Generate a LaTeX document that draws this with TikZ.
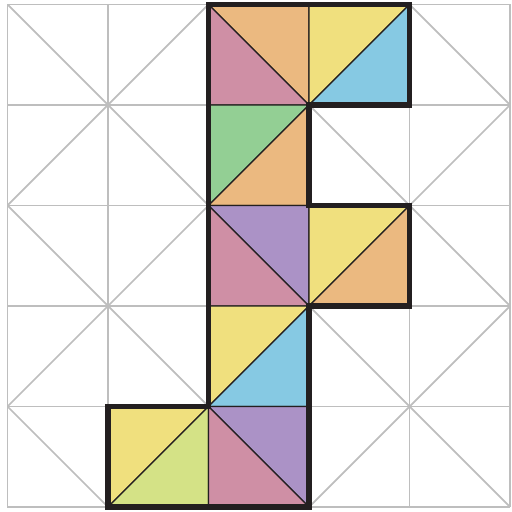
\documentclass[tikz,border=0pt]{standalone}
\definecolor{cOrange}{RGB}{235,185,128}
\definecolor{cPink}{RGB}{207,143,165}
\definecolor{cYellow}{RGB}{240,224,126}
\definecolor{cBlue}{RGB}{134,201,227}
\definecolor{cGreen}{RGB}{147,207,148}
\definecolor{cPurple}{RGB}{171,146,198}
\definecolor{cLime}{RGB}{212,226,134}
\definecolor{cGrid}{RGB}{190,190,190}
\definecolor{cInk}{RGB}{35,31,32}
\tikzset{
  gridline/.style={draw=cGrid, line width=0.5pt},
  tri/.style={draw=cInk, line width=0.35pt, line join=round},
  outline/.style={draw=cInk, line width=1.5pt, line join=miter},
}
\begin{document}
\begin{tikzpicture}
\useasboundingbox (0,0) rectangle (5.12,5.12);
\begin{scope}[shift={(0.075,0.05)},scale=1.005]
  % background grid
  \draw[gridline] (0,0) grid (5,5);
  \begin{scope}
    \clip (0,0) rectangle (5,5);
    \foreach \k in {1,3,5,7,9} {
      \draw[gridline] (-1,\k+1) -- (\k+1,-1);
    }
    \foreach \k in {-3,-1,1,3} {
      \draw[gridline] (\k-1,-1) -- (\k+6,6);
    }
  \end{scope}
  % coloured triangles
  \filldraw[tri, fill=cOrange] (2,5) -- (3,5) -- (3,4) -- cycle;
  \filldraw[tri, fill=cPink]   (2,5) -- (2,4) -- (3,4) -- cycle;
  \filldraw[tri, fill=cYellow] (3,4) -- (3,5) -- (4,5) -- cycle;
  \filldraw[tri, fill=cBlue]   (3,4) -- (4,4) -- (4,5) -- cycle;
  \filldraw[tri, fill=cGreen]  (2,3) -- (2,4) -- (3,4) -- cycle;
  \filldraw[tri, fill=cOrange] (2,3) -- (3,3) -- (3,4) -- cycle;
  \filldraw[tri, fill=cPurple] (2,3) -- (3,3) -- (3,2) -- cycle;
  \filldraw[tri, fill=cPink]   (2,3) -- (2,2) -- (3,2) -- cycle;
  \filldraw[tri, fill=cYellow] (3,2) -- (3,3) -- (4,3) -- cycle;
  \filldraw[tri, fill=cOrange] (3,2) -- (4,2) -- (4,3) -- cycle;
  \filldraw[tri, fill=cYellow] (2,1) -- (2,2) -- (3,2) -- cycle;
  \filldraw[tri, fill=cBlue]   (2,1) -- (3,1) -- (3,2) -- cycle;
  \filldraw[tri, fill=cYellow] (1,0) -- (1,1) -- (2,1) -- cycle;
  \filldraw[tri, fill=cLime]   (1,0) -- (2,0) -- (2,1) -- cycle;
  \filldraw[tri, fill=cPurple] (2,1) -- (3,1) -- (3,0) -- cycle;
  \filldraw[tri, fill=cPink]   (2,1) -- (2,0) -- (3,0) -- cycle;
  % thick outline
  \draw[outline] (2,5) -- (4,5) -- (4,4) -- (3,4) -- (3,3) -- (4,3) -- (4,2)
    -- (3,2) -- (3,0) -- (1,0) -- (1,1) -- (2,1) -- cycle;
\end{scope}
\end{tikzpicture}
\end{document}
